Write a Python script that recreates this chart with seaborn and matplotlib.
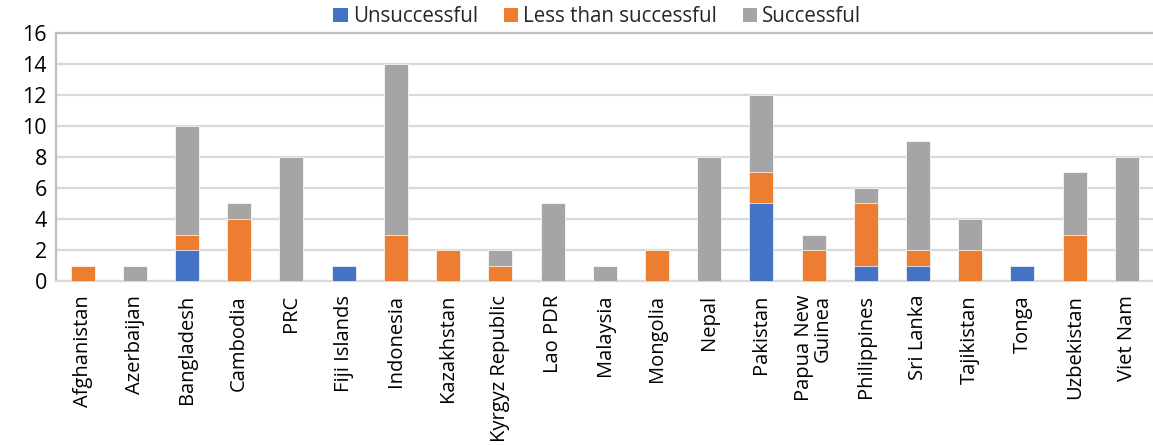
import matplotlib
matplotlib.use("Agg")
import matplotlib.pyplot as plt
import seaborn as sns
import pandas as pd
import numpy as np
from matplotlib.patches import Patch

countries = ["Afghanistan", "Azerbaijan", "Bangladesh", "Cambodia", "PRC", "Fiji Islands",
             "Indonesia", "Kazakhstan", "Kyrgyz Republic", "Lao PDR", "Malaysia", "Mongolia",
             "Nepal", "Pakistan", "Papua New\nGuinea", "Philippines", "Sri Lanka", "Tajikistan",
             "Tonga", "Uzbekistan", "Viet Nam"]
unsuccessful = [0, 0, 2, 0, 0, 1, 0, 0, 0, 0, 0, 0, 0, 5, 0, 1, 1, 0, 1, 0, 0]
less_than = [1, 0, 1, 4, 0, 0, 3, 2, 1, 0, 0, 2, 0, 2, 2, 4, 1, 2, 0, 3, 0]
successful = [0, 1, 7, 1, 8, 0, 11, 0, 1, 5, 1, 0, 8, 5, 1, 1, 7, 2, 0, 4, 8]
series_names = ["Unsuccessful", "Less than successful", "Successful"]
y_ticks = [0, 2, 4, 6, 8, 10, 12, 14, 16]

colors = ["#4472C4", "#ED7D31", "#A5A5A5"]

sns.set_theme(style="white")
plt.rcParams['font.family'] = ['Open Sans', 'DejaVu Sans']

df = pd.DataFrame({"country": countries,
                   "u": unsuccessful, "l": less_than, "s": successful})
df["cum_l"] = df["u"] + df["l"]
df["cum_s"] = df["cum_l"] + df["s"]

fig = plt.figure(figsize=(11.53, 4.45), dpi=100)
ax = fig.add_axes([0.049, 0.3685, 0.951, 0.5575])

for col, c in [("cum_s", colors[2]), ("cum_l", colors[1]), ("u", colors[0])]:
    sns.barplot(data=df, x="country", y=col, color=c, ax=ax, width=0.46,
                edgecolor="white", linewidth=0.5, saturation=1, zorder=3)

ax.set_ylim(0, 16)
ax.set_yticks(y_ticks)
ax.set_xlim(-0.5, len(countries) - 0.5)
ax.yaxis.grid(True, color="#D9D9D9", linewidth=1.6, zorder=0)
ax.set_axisbelow(True)
ax.set_xlabel("")
ax.set_ylabel("")
ax.spines["right"].set_visible(False)
ax.spines["left"].set_color("#BFBFBF")
ax.spines["left"].set_linewidth(1.6)
ax.spines["top"].set_color("#BFBFBF")
ax.spines["top"].set_linewidth(1.6)
ax.spines["bottom"].set_color("#D9D9D9")
ax.spines["bottom"].set_linewidth(1.6)

ax.tick_params(axis="y", labelsize=15.5, length=0, pad=7, colors="black")
ax.tick_params(axis="x", labelsize=14.5, length=0, pad=10, colors="black")
ax.set_xticks(range(len(countries)))
ax.set_xticklabels(countries, rotation=90, va="top", ha="center", multialignment="right",
                   linespacing=0.95)

handles = [Patch(facecolor=c, edgecolor="none") for c in colors]
fig.legend(handles, series_names, loc="center", bbox_to_anchor=(0.518, 0.962), ncol=3,
           frameon=False, fontsize=14.8, handlelength=0.7, handleheight=0.7,
           handletextpad=0.25, columnspacing=1.25, borderaxespad=0)

fig.savefig("out.png", dpi=100)
